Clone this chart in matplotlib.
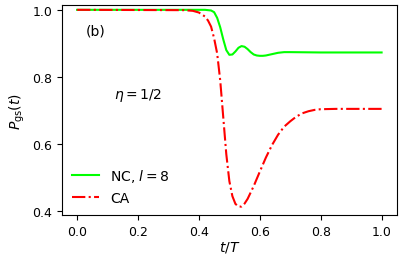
import matplotlib
matplotlib.use("Agg")
import matplotlib.pyplot as plt

# values
t_nc = [0.0, 0.40, 0.42, 0.43, 0.44, 0.45, 0.46, 0.47, 0.48, 0.49, 0.50,
        0.51, 0.52, 0.53, 0.54, 0.55, 0.56, 0.57, 0.58, 0.59, 0.60, 0.61,
        0.62, 0.64, 0.66, 0.68, 0.70, 0.80, 1.0]
p_nc = [1.0, 1.0, 1.0, 0.999, 0.998, 0.993, 0.976, 0.948, 0.912, 0.880, 0.866,
        0.867, 0.876, 0.887, 0.892, 0.890, 0.883, 0.874, 0.867, 0.864, 0.863, 0.863,
        0.864, 0.868, 0.872, 0.874, 0.874, 0.873, 0.873]

t_ca = [0.0, 0.35, 0.38, 0.40, 0.42, 0.43, 0.44, 0.45, 0.46, 0.47, 0.48,
        0.49, 0.50, 0.51, 0.52, 0.53, 0.54, 0.55, 0.56, 0.58, 0.60, 0.62,
        0.64, 0.66, 0.68, 0.70, 0.72, 0.74, 0.76, 0.78, 0.80, 0.85, 1.0]
p_ca = [1.0, 0.999, 0.997, 0.992, 0.980, 0.968, 0.950, 0.915, 0.870, 0.790, 0.680,
        0.570, 0.490, 0.445, 0.422, 0.414, 0.414, 0.423, 0.437, 0.475, 0.518, 0.560,
        0.597, 0.628, 0.652, 0.668, 0.682, 0.692, 0.698, 0.702, 0.704, 0.705, 0.705]

fig = plt.figure(figsize=(4.07, 2.55), dpi=100)
ax = fig.add_axes([0.152, 0.153, 0.823, 0.823])

ax.plot(t_nc, p_nc, color="lime", lw=1.5, label=r"NC, $l=8$")
ax.plot(t_ca, p_ca, color="red", lw=1.5, ls="-.", label="CA")

ax.set_xlim(-0.05, 1.05)
ax.set_ylim(0.389, 1.014)
ax.set_xticks([0.0, 0.2, 0.4, 0.6, 0.8, 1.0])
ax.set_yticks([0.4, 0.6, 0.8, 1.0])
ax.tick_params(labelsize=9)

ax.set_xlabel(r"$t/T$", fontsize=10, labelpad=1)
ax.set_ylabel(r"$P_{\rm gs}(t)$", fontsize=10, labelpad=4)

ax.text(0.03, 0.937, "(b)", fontsize=10, va="center")
ax.text(0.12, 0.749, r"$\eta=1/2$", fontsize=10, va="center")

ax.legend(loc="lower left", frameon=False, fontsize=10, handlelength=2.0,
          borderaxespad=0.3)

fig.savefig("out.png", dpi=100)
